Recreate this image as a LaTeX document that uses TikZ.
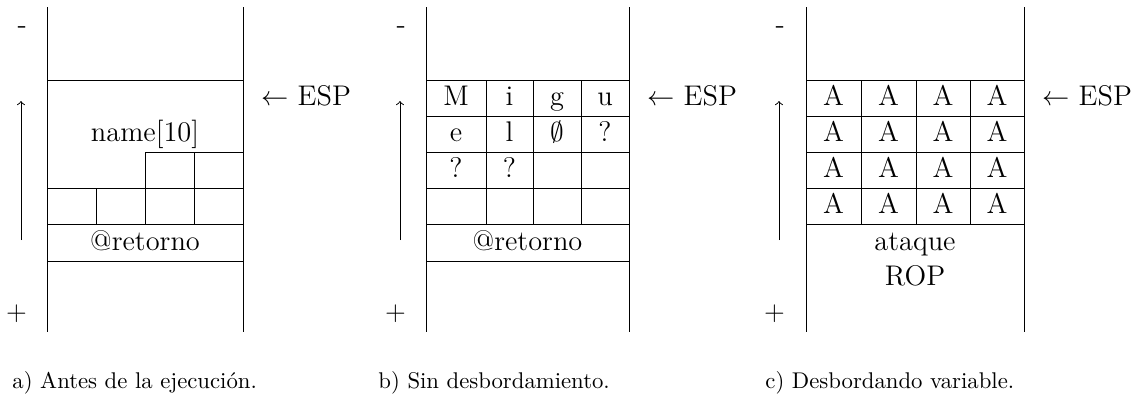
\documentclass[tikz,border=0pt]{standalone}
\tikzset{every picture/.style={line width=0.4pt}}
\tikzset{
  celltxt/.style={anchor=base,inner sep=0.75pt,font=\fontsize{12.5}{15}\selectfont},
  sidetxt/.style={anchor=base east,inner sep=0.75pt,font=\fontsize{12.5}{15}\selectfont},
  esptxt/.style={anchor=base west,inner sep=0.75pt,font=\fontsize{12.5}{15}\selectfont},
  captxt/.style={anchor=base west,inner sep=0pt,font=\normalsize},
}

\begin{document}
\begin{tikzpicture}[x=0.44pt,y=0.44pt,yscale=-1,xscale=1]
\useasboundingbox (0,0) rectangle (1146,402);

%% ---------- a) ----------
%Straight Lines
\draw    (47,7) -- (47,332) ;
\draw    (243,7) -- (243,332) ;
\draw    (47,80) -- (243,80) ;
\draw    (145,152) -- (243,152) ;
\draw    (47,188) -- (243,188) ;
\draw    (47,224) -- (243,224) ;
\draw    (47,261) -- (243,261) ;
\draw    (96,188) -- (96,224) ;
\draw    (145,152) -- (145,224) ;
\draw    (194,152) -- (194,224) ;
%Arrow
\coordinate (upA0) at (21,240) ;
\coordinate (upA1) at (21,101) ;
\draw [->] (upA0) -- (upA1) ;

% Text Node
\draw (29,34) node [sidetxt] (minusA) {-};
\draw (29,320) node [sidetxt] (plusA) {$+$};
\draw (259,105.5) node [esptxt] (espA) {$\leftarrow$ ESP};
\draw (145,141.5) node [celltxt] (nameA) {name[10]};
\draw (145,250) node [celltxt] (retA) {@retorno};

%% ---------- b) ----------
%Straight Lines
\draw    (426,7) -- (426,332) ;
\draw    (629,7) -- (629,332) ;
\draw    (426,80) -- (629,80) ;
\draw    (426,116) -- (629,116) ;
\draw    (426,152) -- (629,152) ;
\draw    (426,188) -- (629,188) ;
\draw    (426,224) -- (629,224) ;
\draw    (426,261) -- (629,261) ;
\draw    (486,80) -- (486,224) ;
\draw    (533,80) -- (533,224) ;
\draw    (581,80) -- (581,224) ;
%Arrow
\coordinate (upB0) at (400,240) ;
\coordinate (upB1) at (400,101) ;
\draw [->] (upB0) -- (upB1) ;

% Text Node
\draw (408,34) node [sidetxt] (minusB) {-};
\draw (408,320) node [sidetxt] (plusB) {$+$};
\draw (645,105.5) node [esptxt] (espB) {$\leftarrow$ ESP};
\draw (456,105.5) node [celltxt] (bM) {M};
\draw (509.5,105.5) node [celltxt] (bi) {i};
\draw (557,105.5) node [celltxt] (bg) {g};
\draw (605,105.5) node [celltxt] (bu) {u};
\draw (456,141.5) node [celltxt] (be) {e};
\draw (509.5,141.5) node [celltxt] (bl) {l};
\draw (557,141.5) node [celltxt] (bnul) {$\emptyset$};
\draw (605,141.5) node [celltxt] (bq1) {?};
\draw (456,177.5) node [celltxt] (bq2) {?};
\draw (509.5,177.5) node [celltxt] (bq3) {?};
\draw (527.5,250) node [celltxt] (retB) {@retorno};

%% ---------- c) ----------
%Straight Lines
\draw    (806,7) -- (806,332) ;
\draw    (1024,7) -- (1024,332) ;
\draw    (806,80) -- (1024,80) ;
\draw    (806,116) -- (1024,116) ;
\draw    (806,152) -- (1024,152) ;
\draw    (806,188) -- (1024,188) ;
\draw    (806,224) -- (1024,224) ;
\draw    (861,80) -- (861,224) ;
\draw    (916,80) -- (916,224) ;
\draw    (970,80) -- (970,224) ;
%Arrow
\coordinate (upC0) at (779,240) ;
\coordinate (upC1) at (779,101) ;
\draw [->] (upC0) -- (upC1) ;

% Text Node
\draw (787,34) node [sidetxt] (minusC) {-};
\draw (787,320) node [sidetxt] (plusC) {$+$};
\draw (1040,105.5) node [esptxt] (espC) {$\leftarrow$ ESP};
\foreach \r in {0,...,3}
  \foreach \cx [count=\c] in {833.5,888.5,943,997}
    \draw (\cx,105.5+36*\r) node [celltxt] (cA-\r-\c) {A};
\draw (915,250) node [celltxt] (ataqueC) {ataque};
\draw (915,285) node [celltxt] (ropC) {ROP};

%% ---------- captions ----------
\draw (12,388) node [captxt] (capA) {a) Antes de la ejecución.};
\draw (378,388) node [captxt] (capB) {b) Sin desbordamiento.};
\draw (765,388) node [captxt] (capC) {c) Desbordando variable.};

\end{tikzpicture}
\end{document}
